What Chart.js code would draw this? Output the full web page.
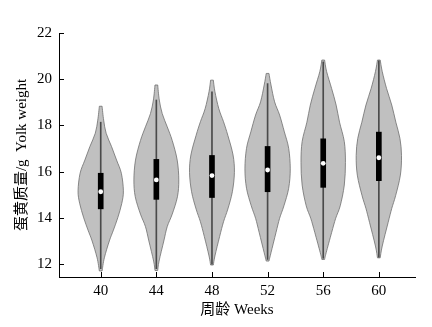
<!DOCTYPE html>
<html lang="zh">
<head>
  <meta charset="UTF-8" />
  <title>蛋黄质量 Yolk weight</title>
  <script src="https://cdn.jsdelivr.net/npm/chart.js"></script>
  <style>
    body { margin: 0; background: #fff; }
  </style>
</head>
<body>
  <canvas id="grafico" width="432" height="327"></canvas>
  <script>
    // semanas e estatisticas
    const weeks = [40, 44, 48, 52, 56, 60];
    const medians = [15.13, 15.64, 15.83, 16.07, 16.36, 16.6];
    const q1 = [14.39, 14.8, 14.88, 15.13, 15.32, 15.61];
    const q3 = [15.93, 16.53, 16.7, 17.09, 17.42, 17.71];
    const whiskerLow = [11.8, 11.8, 12.0, 12.2, 12.25, 12.3];
    const whiskerHigh = [18.14, 19.1, 19.45, 19.81, 20.75, 20.8];

    // contorno do violino: niveis (g) e largura relativa em cada nivel
    const densityLevels = [
      [18.83, 18.23, 17.66, 17.08, 16.5, 15.93, 15.17, 14.63, 14.0, 13.47, 13.0, 12.27, 11.7],
      [19.75, 19.1, 18.51, 17.94, 17.35, 16.5, 15.64, 14.91, 14.16, 13.62, 13.0, 12.13, 11.72],
      [19.96, 19.46, 18.73, 18.16, 17.57, 16.72, 15.97, 15.13, 14.38, 13.83, 13.2, 12.35, 11.96],
      [20.25, 19.75, 19.02, 18.45, 17.72, 17.01, 16.12, 15.28, 14.52, 13.98, 13.36, 12.49, 12.13],
      [20.83, 20.33, 19.6, 18.88, 18.14, 17.3, 16.4, 15.42, 14.52, 13.98, 13.36, 12.49, 12.2],
      [20.83, 20.33, 19.6, 18.88, 18.14, 17.44, 16.7, 15.85, 14.96, 14.41, 13.8, 12.78, 12.27]
    ];
    const densityWidths = [
      [0.06, 0.13, 0.24, 0.48, 0.70, 0.91, 1.00, 0.93, 0.75, 0.56, 0.38, 0.16, 0.06],
      [0.06, 0.13, 0.26, 0.48, 0.70, 0.92, 0.99, 0.93, 0.70, 0.48, 0.33, 0.12, 0.06],
      [0.06, 0.13, 0.30, 0.51, 0.70, 0.93, 0.99, 0.90, 0.70, 0.51, 0.34, 0.13, 0.06],
      [0.06, 0.15, 0.31, 0.53, 0.74, 0.93, 1.00, 0.93, 0.72, 0.53, 0.37, 0.15, 0.06],
      [0.06, 0.15, 0.37, 0.57, 0.72, 0.93, 0.98, 0.93, 0.75, 0.55, 0.37, 0.13, 0.06],
      [0.06, 0.15, 0.34, 0.57, 0.75, 0.93, 1.00, 0.95, 0.74, 0.57, 0.41, 0.15, 0.06]
    ];

    const xTicks = [40, 44, 48, 52, 56, 60];
    const yTicks = [12, 14, 16, 18, 20, 22];

    const meiaLargura = 1.63; // semanas
    const fonteSerif = '"Liberation Serif", "Noto Sans CJK SC", serif';

    function curva(ctx, pts) {
      for (let i = 0; i < pts.length - 1; i++) {
        const p0 = pts[Math.max(i - 1, 0)];
        const p1 = pts[i];
        const p2 = pts[i + 1];
        const p3 = pts[Math.min(i + 2, pts.length - 1)];
        ctx.bezierCurveTo(
          p1.x + (p2.x - p0.x) / 6, p1.y + (p2.y - p0.y) / 6,
          p2.x - (p3.x - p1.x) / 6, p2.y - (p3.y - p1.y) / 6,
          p2.x, p2.y
        );
      }
    }

    const violinos = {
      id: "violinos",
      beforeDatasetsDraw(chart) {
        const ctx = chart.ctx;
        const x = chart.scales.x;
        const y = chart.scales.y;
        ctx.save();
        weeks.forEach((w, i) => {
          const cx = x.getPixelForValue(w);
          const escala = x.getPixelForValue(w + meiaLargura) - cx;
          const lv = densityLevels[i];
          const dw = densityWidths[i];
          const dir = lv.map((v, k) => ({ x: cx + dw[k] * escala, y: y.getPixelForValue(v) }));
          const esq = lv.map((v, k) => ({ x: cx - dw[k] * escala, y: y.getPixelForValue(v) })).reverse();
          ctx.beginPath();
          ctx.moveTo(dir[0].x, dir[0].y);
          curva(ctx, dir);
          ctx.lineTo(esq[0].x, esq[0].y);
          curva(ctx, esq);
          ctx.closePath();
          ctx.fillStyle = "#c0c0c0";
          ctx.fill();
          ctx.lineWidth = 0.8;
          ctx.strokeStyle = "#6e6e6e";
          ctx.stroke();
        });
        ctx.restore();
      },
      afterDatasetsDraw(chart) {
        const ctx = chart.ctx;
        const x = chart.scales.x;
        const y = chart.scales.y;
        const area = chart.chartArea;
        ctx.save();
        ctx.strokeStyle = "#000";
        ctx.lineWidth = 1;
        ctx.beginPath();
        xTicks.forEach(t => {
          const px = Math.round(x.getPixelForValue(t)) + 0.5;
          ctx.moveTo(px, area.bottom);
          ctx.lineTo(px, area.bottom - 5);
        });
        yTicks.forEach(t => {
          const py = Math.round(y.getPixelForValue(t)) + 0.5;
          ctx.moveTo(area.left, py);
          ctx.lineTo(area.left + 5, py);
        });
        ctx.stroke();
        ctx.restore();
      }
    };

    new Chart(document.getElementById("grafico"), {
      type: "bar",
      data: {
        datasets: [
          {
            label: "whisker",
            data: weeks.map((w, i) => ({ x: w, y: [whiskerLow[i], whiskerHigh[i]] })),
            backgroundColor: "#4a4a4a",
            barThickness: 1,
            grouped: false,
            order: 3
          },
          {
            label: "box",
            data: weeks.map((w, i) => ({ x: w, y: [q1[i], q3[i]] })),
            backgroundColor: "#000",
            barThickness: 5,
            grouped: false,
            order: 2
          },
          {
            type: "scatter",
            label: "median",
            data: weeks.map((w, i) => ({ x: w, y: medians[i] })),
            pointRadius: 2.4,
            pointBackgroundColor: "#fff",
            pointBorderWidth: 0,
            order: 1
          }
        ]
      },
      options: {
        responsive: false,
        animation: false,
        layout: { padding: { top: 33, right: 17, left: 0, bottom: 0 } },
        plugins: { legend: { display: false }, tooltip: { enabled: false } },
        scales: {
          x: {
            type: "linear",
            offset: false,
            min: 37,
            max: 62.6,
            grid: { display: false, drawTicks: false, offset: false },
            border: { display: true, color: "#000", width: 1 },
            afterBuildTicks: s => { s.ticks = xTicks.map(v => ({ value: v })); },
            afterFit: s => { s.height = 50; },
            ticks: { color: "#000", padding: 5, font: { family: fonteSerif, size: 15 } },
            title: {
              display: true,
              text: "周龄 Weeks",
              color: "#000",
              font: { family: fonteSerif, size: 15 },
              padding: { top: 0, bottom: 8 }
            }
          },
          y: {
            min: 11.44,
            max: 22,
            grid: { display: false, drawTicks: false },
            border: { display: true, color: "#000", width: 1 },
            afterBuildTicks: s => { s.ticks = yTicks.map(v => ({ value: v })); },
            afterFit: s => { s.width = 59; },
            ticks: { color: "#000", padding: 7, font: { family: fonteSerif, size: 15 } },
            title: {
              display: true,
              text: "蛋黄质量/g  Yolk weight",
              color: "#000",
              font: { family: fonteSerif, size: 15 },
              padding: { top: 13, bottom: 0 }
            }
          }
        }
      },
      plugins: [violinos]
    });
  </script>
</body>
</html>
